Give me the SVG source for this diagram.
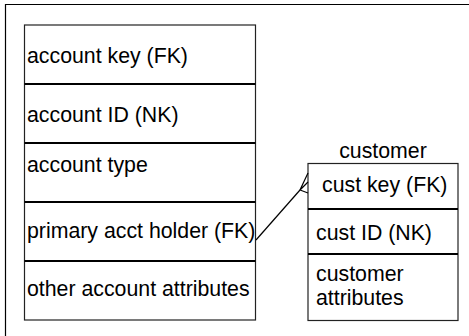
<svg xmlns="http://www.w3.org/2000/svg" width="469" height="336" viewBox="0 0 469 336">
<style>
  text { font-family: "Liberation Sans", Arial, sans-serif; font-size: 21.3px; fill: #000; }
  .box { fill: #fff; stroke: #222; stroke-width: 1.2; }
  .div { stroke: #000; stroke-width: 2; }
  .conn { fill: none; stroke: #000; stroke-width: 1.2; }
</style>
<rect x="0" y="0" width="469" height="336" fill="#fff"/>
<g id="frame">
  <path d="M5.5,340 V4.5 H475" fill="none" stroke="#000" stroke-width="1.2"/>
</g>
<g id="account">
  <rect class="box" x="24.5" y="25" width="231" height="295"/>
  <line class="div" x1="24.5" y1="84" x2="255.5" y2="84"/>
  <line class="div" x1="24.5" y1="143" x2="255.5" y2="143"/>
  <line class="div" x1="24.5" y1="202" x2="255.5" y2="202"/>
  <line class="div" x1="24.5" y1="261" x2="255.5" y2="261"/>
  <text x="27" y="63">account key (FK)</text>
  <text x="27" y="122">account ID (NK)</text>
  <text x="27" y="172">account type</text>
  <text x="27" y="238">primary acct holder (FK)</text>
  <text x="27" y="296">other account attributes</text>
</g>
<g id="customer">
  <text x="383" y="158" text-anchor="middle">customer</text>
  <rect class="box" x="308" y="163.5" width="150" height="157"/>
  <line class="div" x1="308" y1="209" x2="458" y2="209"/>
  <line class="div" x1="308" y1="254" x2="458" y2="254"/>
  <text x="322" y="192">cust key (FK)</text>
  <text x="316" y="240">cust ID (NK)</text>
  <text x="316" y="281">customer</text>
  <text x="316" y="305">attributes</text>
</g>
<g id="connectors">
  <path class="conn" d="M256,240 L300,190"/>
  <path class="conn" d="M308,173 L300,190 L308,193 M300,190 L308,182"/>
</g>
</svg>
